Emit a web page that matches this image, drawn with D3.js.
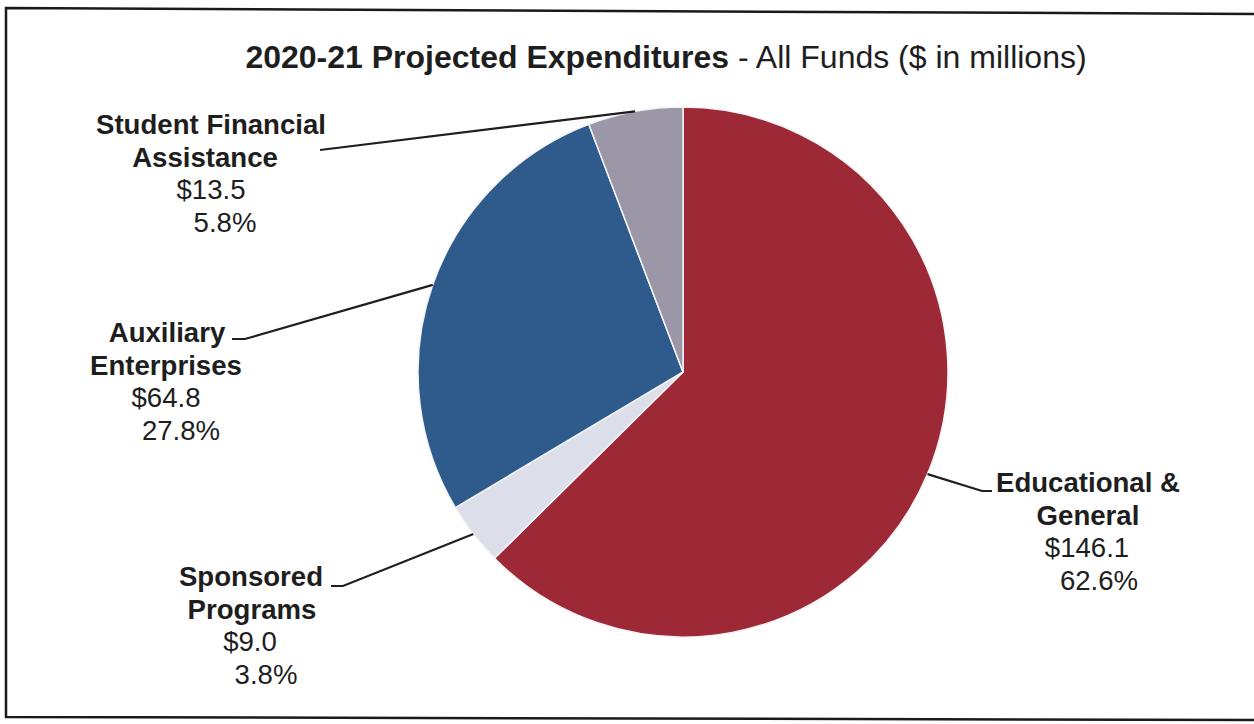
<!DOCTYPE html>
<html>
<head>
<meta charset="utf-8">
<script src="https://cdn.jsdelivr.net/npm/d3@7"></script>
<style>
  html, body { margin: 0; padding: 0; background: #fff; }
  svg { display: block; }
  text { font-family: "Liberation Sans", Arial, sans-serif; fill: #1e1e1e; }
</style>
</head>
<body>
<svg id="chart" width="1254" height="724"></svg>
<script>
// ---- data ----
const categories = ["Educational & General", "Sponsored Programs", "Auxiliary Enterprises", "Student Financial Assistance"];
const values = [146.1, 9.0, 64.8, 13.5];
const percents = ["62.6%", "3.8%", "27.8%", "5.8%"];
const nameLines = [["Educational &", "General"], ["Sponsored", "Programs"], ["Auxiliary", "Enterprises"], ["Student Financial", "Assistance"]];
const colors = ["#9c2935", "#dcdfe9", "#2e5b8b", "#9c97a7"];
const titleBold = "2020-21 Projected Expenditures";
const titleRest = " - All Funds ($ in millions)";

// ---- layout ----
const W = 1254, H = 724;
const cx = 683, cy = 372, R = 265;
// label block: centers of each line [name1, name2, value, percent], first baseline, elbow points
const labelLayout = [
  { xs: [1088, 1088, 1087, 1099], y0: 492, elbow: [[982, 491], [992, 491]] },
  { xs: [251, 252, 250, 266], y0: 586, elbow: [[343, 586], [331, 586]] },
  { xs: [167, 166, 166, 181], y0: 342, elbow: [[245, 339], [232, 339]] },
  { xs: [211, 205, 211, 225], y0: 134, elbow: [[320, 150]] }
];
const lineGap = 32.5;

const svg = d3.select("#chart");

// frame
const frame = d3.line();
svg.append("path")
  .attr("d", frame([[1256, 14], [6, 8], [6, 717], [1256, 720]]))
  .attr("fill", "none").attr("stroke", "#1a1a1a").attr("stroke-width", 2.5);

// title
const title = svg.append("text")
  .attr("x", 666).attr("y", 68)
  .attr("text-anchor", "middle")
  .style("font-size", "32px");
title.append("tspan").attr("font-weight", "bold").text(titleBold);
title.append("tspan").text(titleRest);

// pie
const pie = d3.pie().sort(null).value(d => d)(values);
const arc = d3.arc().innerRadius(0).outerRadius(R);
const edge = d3.arc().innerRadius(R).outerRadius(R);

const g = svg.append("g").attr("transform", `translate(${cx},${cy})`);
g.selectAll("path.slice")
  .data(pie)
  .join("path")
  .attr("class", "slice")
  .attr("d", arc)
  .attr("fill", (d, i) => colors[i])
  .attr("stroke", "#f4f4f6")
  .attr("stroke-width", 1.5);

// leaders
const leader = d3.line();
pie.forEach((d, i) => {
  const c = edge.centroid(d);
  const pts = [[cx + c[0], cy + c[1]], ...labelLayout[i].elbow];
  svg.append("path")
    .attr("d", leader(pts))
    .attr("fill", "none")
    .attr("stroke", "#1e1e1e")
    .attr("stroke-width", 2.2);
});

// labels
pie.forEach((d, i) => {
  const L = labelLayout[i];
  const lines = [
    { t: nameLines[i][0], b: true },
    { t: nameLines[i][1], b: true },
    { t: "$" + values[i].toFixed(1), b: false },
    { t: percents[i], b: false }
  ];
  lines.forEach((ln, k) => {
    svg.append("text")
      .attr("x", L.xs[k])
      .attr("y", L.y0 + k * lineGap)
      .attr("text-anchor", "middle")
      .attr("font-weight", ln.b ? "bold" : "normal")
      .style("font-size", "27.6px")
      .text(ln.t);
  });
});
</script>
</body>
</html>
